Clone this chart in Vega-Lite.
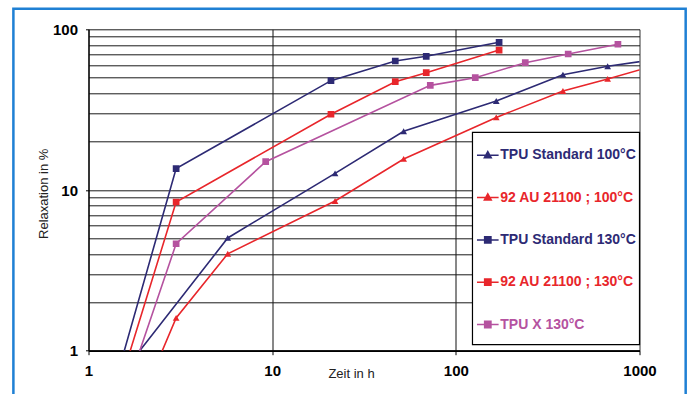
{
  "$schema": "https://vega.github.io/schema/vega-lite/v6.json",
  "width": 551,
  "height": 321.4,
  "autosize": {"type": "none"},
  "padding": {"left": 88.5, "top": 29.3, "right": 49.5, "bottom": 43.3},
  "background": "white",
  "config": {
    "view": {"stroke": null},
    "font": "Liberation Sans"
  },
  "datasets": {
    "series": [
      {"series": "TPU Standard 100°C", "marker": "triangle", "x": 1, "y": 0.39},
      {"series": "TPU Standard 100°C", "marker": "triangle", "x": 5.73, "y": 5.03},
      {"series": "TPU Standard 100°C", "marker": "triangle", "x": 22, "y": 12.7},
      {"series": "TPU Standard 100°C", "marker": "triangle", "x": 52, "y": 23.2},
      {"series": "TPU Standard 100°C", "marker": "triangle", "x": 166, "y": 35.8},
      {"series": "TPU Standard 100°C", "marker": "triangle", "x": 383, "y": 52.2},
      {"series": "TPU Standard 100°C", "marker": "triangle", "x": 671, "y": 58.9},
      {"series": "TPU Standard 100°C", "marker": "triangle", "x": 1500, "y": 67.2},
      {"series": "92 AU 21100 ; 100°C", "marker": "triangle", "x": 1, "y": 0.082},
      {"series": "92 AU 21100 ; 100°C", "marker": "triangle", "x": 3.0, "y": 1.6},
      {"series": "92 AU 21100 ; 100°C", "marker": "triangle", "x": 5.73, "y": 4.01},
      {"series": "92 AU 21100 ; 100°C", "marker": "triangle", "x": 22, "y": 8.54},
      {"series": "92 AU 21100 ; 100°C", "marker": "triangle", "x": 52, "y": 15.6},
      {"series": "92 AU 21100 ; 100°C", "marker": "triangle", "x": 166, "y": 28.3},
      {"series": "92 AU 21100 ; 100°C", "marker": "triangle", "x": 383, "y": 41.3},
      {"series": "92 AU 21100 ; 100°C", "marker": "triangle", "x": 671, "y": 49.1},
      {"series": "92 AU 21100 ; 100°C", "marker": "triangle", "x": 1500, "y": 63.7},
      {"series": "TPU Standard 130°C", "marker": "square", "x": 1, "y": 0.165},
      {"series": "TPU Standard 130°C", "marker": "square", "x": 3.0, "y": 13.6},
      {"series": "TPU Standard 130°C", "marker": "square", "x": 20.9, "y": 47.9},
      {"series": "TPU Standard 130°C", "marker": "square", "x": 46.8, "y": 63.5},
      {"series": "TPU Standard 130°C", "marker": "square", "x": 69, "y": 67.9},
      {"series": "TPU Standard 130°C", "marker": "square", "x": 172, "y": 83},
      {"series": "92 AU 21100 ; 130°C", "marker": "square", "x": 1, "y": 0.144},
      {"series": "92 AU 21100 ; 130°C", "marker": "square", "x": 3.0, "y": 8.42},
      {"series": "92 AU 21100 ; 130°C", "marker": "square", "x": 20.9, "y": 29.6},
      {"series": "92 AU 21100 ; 130°C", "marker": "square", "x": 46.8, "y": 47.2},
      {"series": "92 AU 21100 ; 130°C", "marker": "square", "x": 69, "y": 53.7},
      {"series": "92 AU 21100 ; 130°C", "marker": "square", "x": 172, "y": 74.3},
      {"series": "TPU X 130°C", "marker": "square", "x": 1, "y": 0.115},
      {"series": "TPU X 130°C", "marker": "square", "x": 3.0, "y": 4.63},
      {"series": "TPU X 130°C", "marker": "square", "x": 9.22, "y": 15.0},
      {"series": "TPU X 130°C", "marker": "square", "x": 72.6, "y": 44.8},
      {"series": "TPU X 130°C", "marker": "square", "x": 127.6, "y": 50},
      {"series": "TPU X 130°C", "marker": "square", "x": 238.8, "y": 62},
      {"series": "TPU X 130°C", "marker": "square", "x": 409, "y": 70.2},
      {"series": "TPU X 130°C", "marker": "square", "x": 763, "y": 80.7}
    ]
  },
  "layer": [
    {
      "data": {"values": [{"frame": "border"}]},
      "mark": {"type": "rect", "fill": null, "fillOpacity": 0, "stroke": "#1f80d4", "strokeWidth": 2.5, "clip": false},
      "encoding": {
        "x": {"datum": 0.39, "type": "quantitative", "scale": {"type": "log", "domain": [1, 1000]}},
        "x2": {"datum": 1784},
        "y": {"datum": 134.2, "type": "quantitative", "scale": {"type": "log", "domain": [1, 100]}},
        "y2": {"datum": 0.49}
      }
    },
    {
      "data": {"name": "series"},
      "mark": {"type": "line", "clip": true, "strokeWidth": 1.6},
      "encoding": {
        "x": {
          "field": "x", "type": "quantitative",
          "scale": {"type": "log", "domain": [1, 1000]},
          "axis": {
            "values": [1, 10, 100, 1000],
            "format": "d",
            "labelFont": "Liberation Sans", "labelFontSize": 15, "labelFontWeight": "bold", "labelColor": "#000",
            "labelPadding": 8.5, "labelFlush": false, "labelOverlap": false,
            "tickSize": 4, "tickColor": "#000", "tickWidth": 1,
            "domainColor": "#000", "domainWidth": 1.8,
            "grid": true,
            "gridColor": {"condition": {"test": "datum.value == 1000", "value": "#999"}, "value": "#111"},
            "gridWidth": {"condition": {"test": "datum.value == 1000", "value": 2}, "value": 1},
            "title": "Zeit in h",
            "titleFont": "Liberation Sans", "titleFontSize": 13, "titleFontWeight": "normal", "titleColor": "#222",
            "titleX": 262.5, "titleY": 23, "titleBaseline": "middle", "titleAnchor": "middle"
          }
        },
        "y": {
          "field": "y", "type": "quantitative",
          "scale": {"type": "log", "domain": [1, 100]},
          "axis": {
            "values": [1, 2, 3, 4, 5, 6, 7, 8, 9, 10, 20, 30, 40, 50, 60, 70, 80, 90, 100],
            "format": "d",
            "labelExpr": "(datum.value == 1 || datum.value == 10 || datum.value == 100) ? datum.label : ''",
            "labelFont": "Liberation Sans", "labelFontSize": 15, "labelFontWeight": "bold", "labelColor": "#000",
            "labelPadding": 8, "labelOverlap": false, "labelBaseline": "middle",
            "tickSize": 3, "tickColor": "#000",
            "tickOpacity": {"condition": {"test": "datum.value == 1 || datum.value == 10 || datum.value == 100", "value": 1}, "value": 0},
            "domainColor": "#000", "domainWidth": 1.2,
            "grid": true, "gridColor": "#1a1a1a", "gridWidth": 1,
            "title": "Relaxation in %",
            "titleFont": "Liberation Sans", "titleFontSize": 13, "titleFontWeight": "normal", "titleColor": "#222",
            "titleX": -45.5, "titleY": 164, "titleBaseline": "middle", "titleAnchor": "middle", "titleAngle": -90
          }
        },
        "color": {
          "field": "series", "type": "nominal",
          "scale": {
            "domain": ["TPU Standard 100°C", "92 AU 21100 ; 100°C", "TPU Standard 130°C", "92 AU 21100 ; 130°C", "TPU X 130°C"],
            "range": ["#2d2a74", "#e8262b", "#2d2a74", "#e8262b", "#b5529f"]
          },
          "legend": {
            "orient": "none", "legendX": 387.8, "legendY": 114.5,
            "title": null,
            "padding": 0,
            "symbolSize": 441, "symbolStrokeWidth": 1.5,
            "labelFont": "Liberation Sans", "labelFontSize": 14, "labelFontWeight": "bold",
            "labelLimit": 300, "labelOffset": 1, "rowPadding": 23.3, "labelBaseline": "middle",
            "encode": {
              "symbols": {"update": {
                "shape": {"signal": "indexof(datum.value, '100°C') >= 0 ? 'M-1.03,0L1.03,0M0,-0.36L0.33,0.24L-0.33,0.24Z' : 'M-1.03,0L1.03,0M-0.3,-0.3L0.3,-0.3L0.3,0.3L-0.3,0.3Z'"},
                "fill": {"signal": "scale('color', datum.value)"},
                "stroke": {"signal": "scale('color', datum.value)"},
                "strokeWidth": {"value": 1.5},
                "opacity": {"value": 1},
                "fillOpacity": {"value": 1}
              }},
              "labels": {"update": {"fill": {"signal": "scale('color', datum.value)"}}}
            }
          }
        },
        "detail": {"field": "series"}
      }
    },
    {
      "data": {"name": "series"},
      "mark": {"type": "point", "filled": true, "clip": true, "size": 45, "opacity": 1},
      "encoding": {
        "x": {"field": "x", "type": "quantitative"},
        "y": {"field": "y", "type": "quantitative"},
        "color": {"field": "series", "type": "nominal"},
        "shape": {
          "field": "marker", "type": "nominal",
          "scale": {"domain": ["triangle", "square"], "range": ["triangle-up", "square"]},
          "legend": null
        }
      }
    },
    {
      "data": {"values": [{"box": "legend"}]},
      "mark": {"type": "rect", "fill": "#ffffff", "stroke": "#000000", "strokeWidth": 1.2, "clip": false},
      "encoding": {
        "x": {"datum": 123.2, "type": "quantitative"},
        "x2": {"datum": 1000},
        "y": {"datum": 22.86, "type": "quantitative"},
        "y2": {"datum": 1.09}
      }
    }
  ]
}
